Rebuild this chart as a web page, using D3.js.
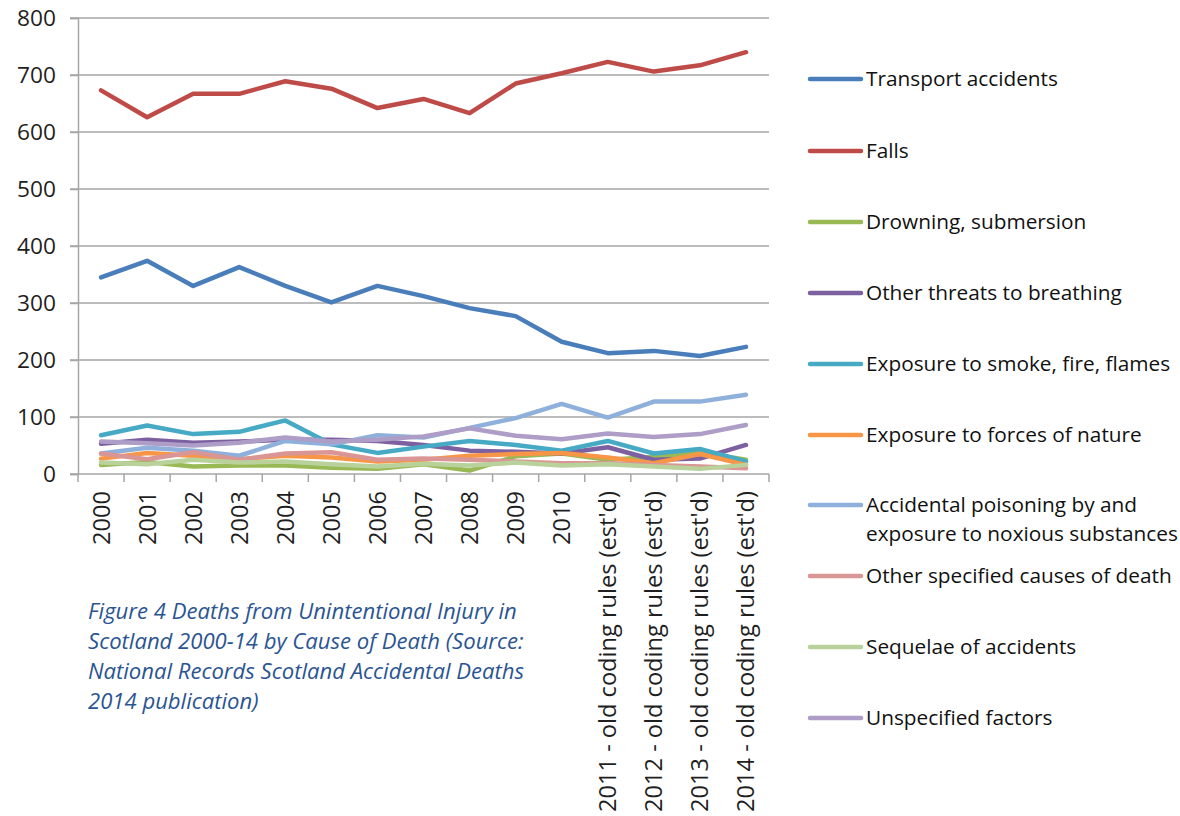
<!DOCTYPE html>
<html>
<head>
<meta charset="utf-8">
<script src="https://cdn.jsdelivr.net/npm/d3@7/dist/d3.min.js"></script>
<style>
  html, body { margin: 0; padding: 0; background: #fff; }
  svg { display: block; }
  text { font-family: "Open Sans", sans-serif; }
</style>
</head>
<body>
<svg id="chart" width="1180" height="816"></svg>
<script>
const categories = ["2000","2001","2002","2003","2004","2005","2006","2007","2008","2009","2010",
  "2011 - old coding rules (est'd)","2012 - old coding rules (est'd)","2013 - old coding rules (est'd)","2014 - old coding rules (est'd)"];

const yTicks = [0, 100, 200, 300, 400, 500, 600, 700, 800];

const seriesNames = ["Transport accidents","Falls","Drowning, submersion","Other threats to breathing",
  "Exposure to smoke, fire, flames","Exposure to forces of nature",
  "Accidental poisoning by and exposure to noxious substances","Other specified causes of death",
  "Sequelae of accidents","Unspecified factors"];

const seriesColors = ["#4A7EBB","#BE4B48","#98B954","#7D60A0","#46AAC5","#F79646","#8EB0DA","#D99694","#B9D19A","#AD9DC7"];

const transport   = [345,374,330,363,330,301,330,312,291,277,232,212,216,207,223];
const falls       = [673,626,667,667,689,676,642,658,633,685,703,723,706,717,740];
const drowning    = [16,21,13,15,15,11,9,17,6,31,36,25,30,38,25];
const breathing   = [53,60,55,57,60,60,58,51,41,39,36,47,25,27,51];
const smoke       = [68,85,70,74,94,52,37,48,58,51,41,58,36,44,22];
const forces      = [27,37,32,26,32,29,22,25,32,35,37,29,19,35,16];
const poisoning   = [36,46,41,32,58,52,68,64,81,98,123,99,127,127,139];
const otherCauses = [36,26,38,25,36,38,25,27,25,22,19,19,16,13,10];
const sequelae    = [20,17,25,20,22,17,13,18,15,20,15,17,13,9,16];
const unspecified = [57,54,50,55,64,57,60,66,80,67,61,71,65,70,86];

const seriesValues = [transport, falls, drowning, breathing, smoke, forces, poisoning, otherCauses, sequelae, unspecified];

const captionLines = ["Figure 4 Deaths from Unintentional Injury in",
  "Scotland 2000-14 by Cause of Death (Source:",
  "National Records Scotland Accidental Deaths",
  "2014 publication)"];

const svg = d3.select("#chart");
const plot = { left: 78, right: 769, top: 18, bottom: 474 };

const x = d3.scaleBand().domain(categories).range([plot.left, plot.right]).paddingInner(0).paddingOuter(0);
const y = d3.scaleLinear().domain([0, 800]).range([plot.bottom, plot.top]);

// gridlines
const gridColor = "#A6A6A6";
svg.append("g").selectAll("line").data(yTicks.filter(d => d > 0)).join("line")
  .attr("x1", plot.left - 8).attr("x2", plot.right)
  .attr("y1", d => y(d)).attr("y2", d => y(d))
  .attr("stroke", gridColor).attr("stroke-width", 1.5);

// y axis
const yAxis = d3.axisLeft(y).tickValues(yTicks).tickSize(8).tickPadding(14).tickFormat(d3.format("d"));
const gy = svg.append("g").attr("transform", `translate(${plot.left},0)`).call(yAxis);
gy.select(".domain").attr("stroke", gridColor).attr("stroke-width", 1.5);
gy.selectAll(".tick line").attr("stroke", gridColor).attr("stroke-width", 1.5);
gy.selectAll(".tick text").attr("font-size", "22.7px").attr("font-family", "Open Sans").attr("fill", "#1f1f1f");

// x axis
const xAxis = d3.axisBottom(x).tickSize(0).tickSizeOuter(0);
const gx = svg.append("g").attr("transform", `translate(0,${plot.bottom})`).call(xAxis);
gx.select(".domain").attr("stroke", gridColor).attr("stroke-width", 1.5)
  .attr("d", `M${plot.left - 8},0H${plot.right}`);
// band boundary ticks
const boundaries = categories.map(c => x(c)).concat([x(categories[categories.length-1]) + x.bandwidth()]);
gx.append("g").selectAll("line").data(boundaries).join("line")
  .attr("x1", d => d).attr("x2", d => d).attr("y1", 0).attr("y2", 8)
  .attr("stroke", gridColor).attr("stroke-width", 1.5);
gx.selectAll(".tick text")
  .attr("font-size", "23.6px").attr("font-family", "Open Sans").attr("fill", "#1f1f1f")
  .attr("text-anchor", "end")
  .attr("transform", "rotate(-90)")
  .attr("x", -17).attr("y", 0).attr("dy", "0.36em");

// lines
const line = d3.line().x((d, i) => x(categories[i]) + x.bandwidth() / 2).y(d => y(d));
svg.append("g").selectAll("path").data(seriesValues).join("path")
  .attr("d", d => line(d))
  .attr("fill", "none")
  .attr("stroke", (d, i) => seriesColors[i])
  .attr("stroke-width", 4.5)
  .attr("stroke-linejoin", "round")
  .attr("stroke-linecap", "round");

// legend
const legendY = [79, 151, 222, 293, 364, 435, 505, 576, 647, 718];
const lg = svg.append("g");
seriesNames.forEach((name, i) => {
  const yy = legendY[i];
  lg.append("line").attr("x1", 810).attr("x2", 861).attr("y1", yy).attr("y2", yy)
    .attr("stroke", seriesColors[i]).attr("stroke-width", 4.5).attr("stroke-linecap", "round");
  const t = lg.append("text").attr("x", 866).attr("y", yy).attr("dy", "0.36em")
    .attr("font-size", "20.8px").attr("fill", "#111");
  if (i === 6) {
    t.append("tspan").attr("x", 866).text("Accidental poisoning by and");
    t.append("tspan").attr("x", 866).attr("dy", "1.36em").text("exposure to noxious substances");
  } else {
    t.text(name);
  }
});

// caption
const cap = svg.append("g");
const capY = [611, 641, 671, 701];
const capTexts = captionLines.map((s, i) => cap.append("text")
  .attr("x", 88).attr("y", capY[i]).attr("dy", "0.36em")
  .attr("font-style", "italic").attr("font-size", "20px").attr("fill", "#2A5592").text(s));
// fit font size so the first line spans the reference width
const w0 = capTexts[0].node().getComputedTextLength();
const fs = 20 * 429 / w0;
capTexts.forEach(t => t.attr("font-size", fs + "px"));
</script>
</body>
</html>
